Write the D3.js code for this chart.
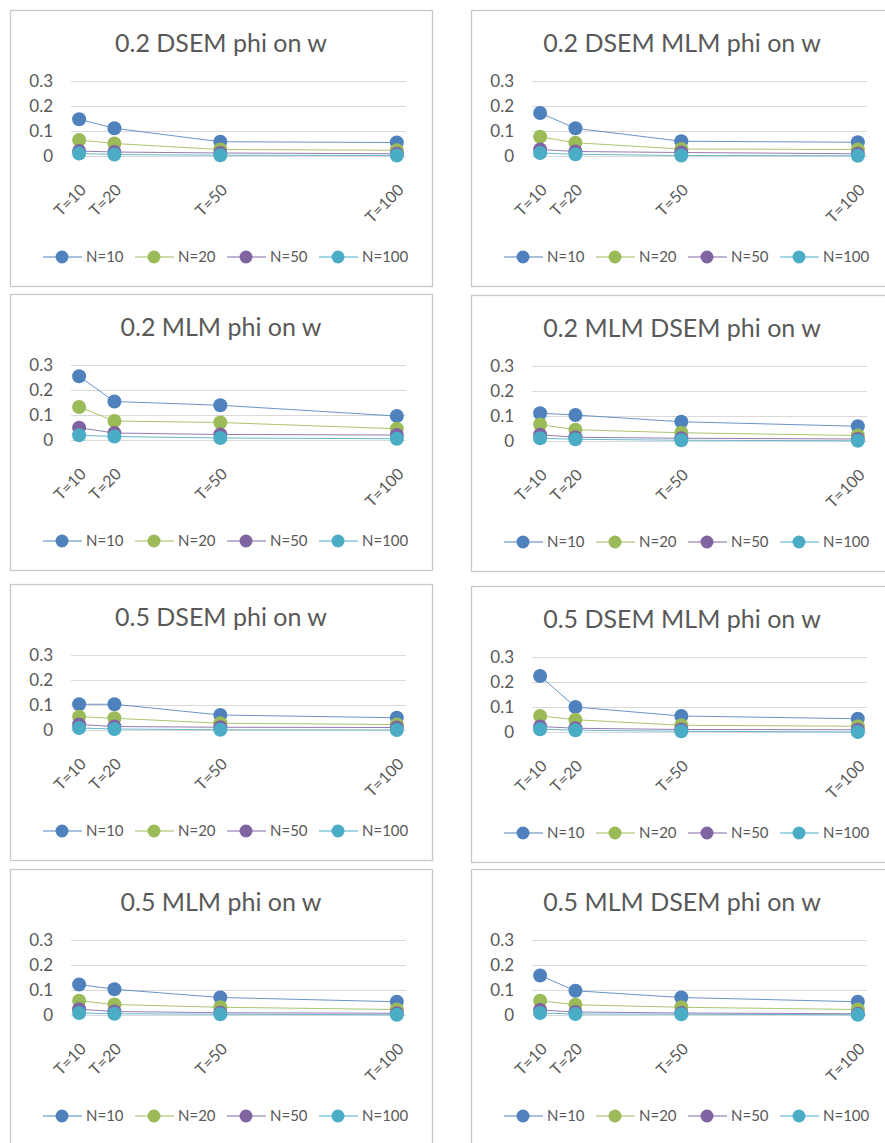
<!DOCTYPE html>
<html><head><meta charset="utf-8">
<script src="https://cdn.jsdelivr.net/npm/d3@7"></script>
<style>
html,body{margin:0;padding:0;background:#fff;}
svg{display:block;}
text{font-family:Lato,"Open Sans",sans-serif;fill:#595959;}
</style></head>
<body>
<svg id="chart" width="885" height="1143"></svg>
<script>
// ---- data ----
const tValues = [10, 20, 50, 100];
const tLabels = ["T=10", "T=20", "T=50", "T=100"];
const seriesNames = ["N=10", "N=20", "N=50", "N=100"];
const yTicks = [0, 0.1, 0.2, 0.3];
const yTickLabels = ["0", "0.1", "0.2", "0.3"];
const panelTitles = [
  "0.2 DSEM phi on w", "0.2 DSEM MLM phi on w",
  "0.2 MLM phi on w", "0.2 MLM DSEM phi on w",
  "0.5 DSEM phi on w", "0.5 DSEM MLM phi on w",
  "0.5 MLM phi on w", "0.5 MLM DSEM phi on w"
];
// each row: one series (N=10, N=20, N=50, N=100) over T=10,20,50,100
const dsem02 = [[0.147, 0.111, 0.057, 0.054], [0.064, 0.050, 0.026, 0.023], [0.020, 0.016, 0.012, 0.009], [0.010, 0.006, 0.003, 0.002]];
const dsemMlm02 = [[0.172, 0.111, 0.059, 0.055], [0.077, 0.053, 0.028, 0.026], [0.026, 0.018, 0.014, 0.009], [0.012, 0.007, 0.002, 0.001]];
const mlm02 = [[0.255, 0.154, 0.139, 0.096], [0.132, 0.076, 0.070, 0.045], [0.049, 0.028, 0.022, 0.020], [0.019, 0.014, 0.008, 0.005]];
const mlmDsem02 = [[0.111, 0.104, 0.077, 0.059], [0.066, 0.045, 0.033, 0.022], [0.025, 0.015, 0.011, 0.008], [0.011, 0.007, 0.003, 0.001]];
const dsem05 = [[0.103, 0.103, 0.060, 0.049], [0.053, 0.047, 0.027, 0.022], [0.022, 0.014, 0.011, 0.010], [0.008, 0.004, 0.001, 0.000]];
const dsemMlm05 = [[0.224, 0.100, 0.064, 0.053], [0.064, 0.049, 0.027, 0.023], [0.022, 0.015, 0.010, 0.009], [0.011, 0.007, 0.003, 0.000]];
const mlm05 = [[0.122, 0.103, 0.070, 0.053], [0.057, 0.042, 0.031, 0.022], [0.023, 0.014, 0.009, 0.007], [0.008, 0.005, 0.003, 0.001]];
const mlmDsem05 = [[0.158, 0.097, 0.070, 0.053], [0.057, 0.041, 0.031, 0.022], [0.020, 0.012, 0.008, 0.005], [0.008, 0.004, 0.003, 0.001]];
const panelValues = [dsem02, dsemMlm02, mlm02, mlmDsem02, dsem05, dsemMlm05, mlm05, mlmDsem05];

// ---- styling / layout ----
const seriesColors = ["#4F81BD", "#9BBB59", "#8064A2", "#4BACC6"];
const panelW = 422, panelH = 276;
const panelPos = [
  [10, 10], [471, 10],
  [10, 294], [471, 295],
  [10, 584], [471, 586],
  [10, 869], [471, 869]
];

const svg = d3.select("#chart");
const x = d3.scaleLinear().domain([7.7, 102.6]).range([61, 396]);
const y = d3.scaleLinear().domain([0, 0.3]).range([146, 71]);

panelTitles.forEach((title, i) => {
  const [px, py] = panelPos[i];
  const g = svg.append("g").attr("transform", `translate(${px},${py})`);
  g.append("rect").attr("x", 0.5).attr("y", 0.5).attr("width", panelW).attr("height", panelH)
    .attr("fill", "#fff").attr("stroke", "#C9C9C9").attr("stroke-width", 1.3);

  g.append("text").attr("x", panelW / 2).attr("y", 42).attr("text-anchor", "middle")
    .attr("font-size", 25).text(title);

  // gridlines
  g.selectAll(".grid").data(yTicks).join("line")
    .attr("x1", 61).attr("x2", 396)
    .attr("y1", d => y(d) + 0.5).attr("y2", d => y(d) + 0.5)
    .attr("stroke", "#D9D9D9").attr("stroke-width", 1);

  // y axis labels
  g.selectAll(".ylab").data(yTicks).join("text")
    .attr("x", 43).attr("y", d => y(d)).attr("dy", "0.36em")
    .attr("text-anchor", "end").attr("font-size", 17)
    .text((d, k) => yTickLabels[k]);

  // x axis labels
  g.selectAll(".xlab").data(tValues).join("text")
    .attr("transform", d => `translate(${x(d) + 8},${y(0) + 35}) rotate(-45)`)
    .attr("text-anchor", "end").attr("font-size", 16)
    .text((d, k) => tLabels[k]);

  const vals = panelValues[i];
  const line = d3.line().x((d, k) => x(tValues[k])).y(d => y(d));
  vals.forEach((s, si) => {
    g.append("path").attr("d", line(s)).attr("fill", "none")
      .attr("stroke", seriesColors[si]).attr("stroke-width", 1).attr("stroke-opacity", 0.85);
  });
  vals.forEach((s, si) => {
    g.selectAll(null).data(s).join("circle")
      .attr("cx", (d, k) => x(tValues[k])).attr("cy", d => y(d)).attr("r", 7)
      .attr("fill", seriesColors[si]);
  });

  // legend
  const lg = g.append("g").attr("transform", "translate(0,247)");
  seriesNames.forEach((name, si) => {
    const mx = 52 + si * 92;
    lg.append("line").attr("x1", mx - 19).attr("x2", mx + 20).attr("y1", 0).attr("y2", 0)
      .attr("stroke", seriesColors[si]).attr("stroke-width", 1);
    lg.append("circle").attr("cx", mx).attr("cy", 0).attr("r", 6.5).attr("fill", seriesColors[si]);
    lg.append("text").attr("x", mx + 24).attr("y", 0).attr("dy", "0.36em")
      .attr("font-size", 15).text(name);
  });
});
</script>
</body></html>
